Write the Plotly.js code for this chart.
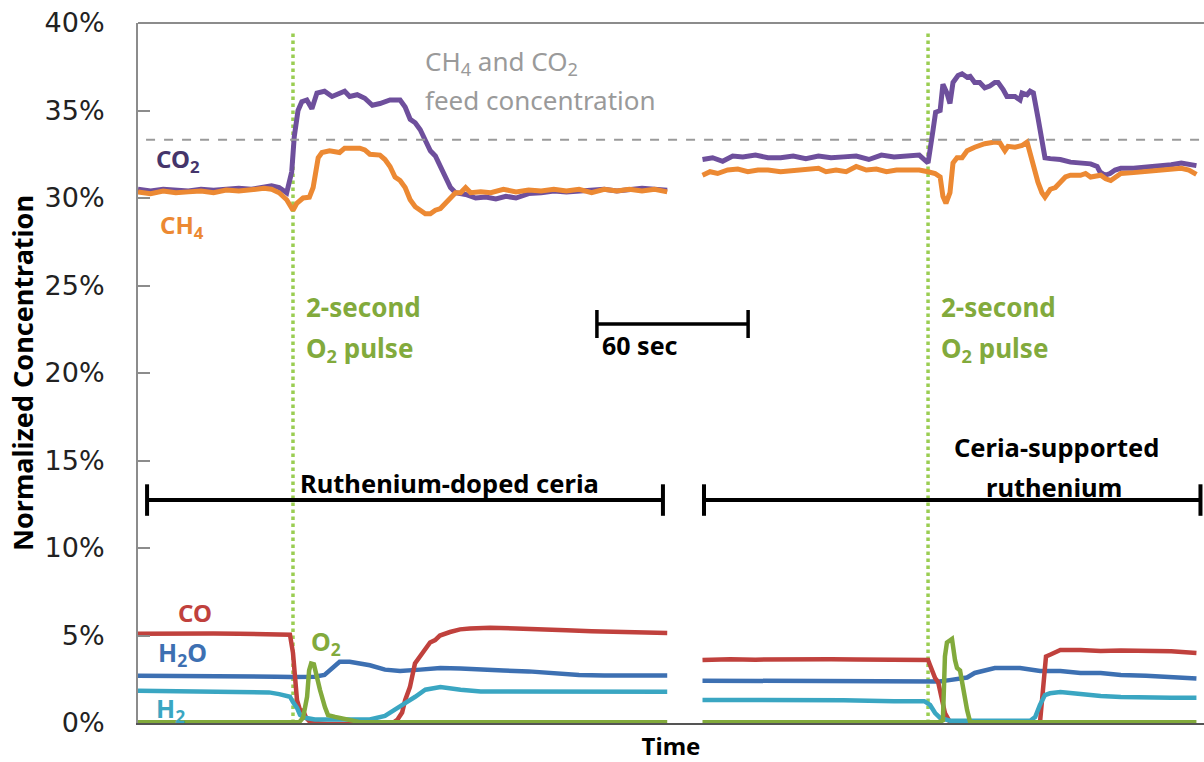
<!DOCTYPE html>
<html>
<head>
<meta charset="utf-8">
<script src="https://cdn.plot.ly/plotly-3.0.1.min.js"></script>
<style>html,body{margin:0;padding:0;background:#fff;}#chart{width:1204px;height:762px;}</style>
</head>
<body>
<div id="chart"></div>
<script>
// ---------- DATA (time in seconds, concentration in %) ----------
// Segment 1: Ruthenium-doped ceria
const tCO2a = [0,5,10,15,20,25,30,35,40,45,50,53,56,59,61,62,63.5,65,67,69,71,74,77,80,82,84,87,90,93,96,100,104,106,108,110,112,114,116,118,120,122,124,126,130,134,138,142,146,150,155,160,165,170,175,180,185,190,195,200,205,210];
const co2a  = [30.5,30.4,30.5,30.45,30.4,30.5,30.45,30.5,30.55,30.5,30.6,30.7,30.6,30.3,31.5,33.5,35.0,35.5,35.6,35.1,36.0,36.1,35.8,36.0,36.1,35.8,35.9,35.7,35.3,35.4,35.6,35.6,35.2,34.5,34.3,33.9,33.3,32.7,32.4,31.8,31.3,30.6,30.3,30.2,30.0,30.05,29.95,30.1,30.0,30.25,30.3,30.4,30.35,30.4,30.45,30.5,30.4,30.5,30.55,30.5,30.45];
const tCH4a = [0,5,10,15,20,25,30,35,40,45,50,53,56,59,61.5,63,65.5,68,69.5,71.5,73,76,80,82,88,90,92,96,98,100,102,104,106,108,110,112,114,116,118,120,122,124,126,128,130,132,136,140,145,150,155,160,165,170,175,180,185,190,195,200,205,210];
const ch4a  = [30.35,30.25,30.4,30.3,30.35,30.4,30.3,30.45,30.4,30.5,30.55,30.5,30.3,29.9,29.3,29.7,30.0,30.05,30.6,32.3,32.6,32.7,32.6,32.85,32.85,32.75,32.5,32.45,32.2,31.8,31.2,31.0,30.6,29.9,29.5,29.3,29.1,29.1,29.3,29.4,29.7,30.05,30.3,30.3,30.6,30.3,30.35,30.3,30.5,30.35,30.45,30.4,30.5,30.4,30.5,30.3,30.5,30.4,30.5,30.4,30.5,30.35];
const tCOa  = [0,10,20,30,40,50,58,60.3,61.5,62.3,63.1,64.3,65.5,66.7,68,70.2,75,85,95,101,103,104.8,106,107.9,109.9,111.9,113.9,115.9,117.9,119.8,123.8,127.8,131.7,139.7,150,160,170,180,190,200,210];
const coa   = [5.1,5.12,5.1,5.12,5.1,5.08,5.08,5.05,4.0,2.6,1.3,0.74,0.7,0.3,0.1,0.0,-0.05,-0.05,-0.05,0.0,0.2,0.6,1.3,2.05,3.4,3.8,4.3,4.6,4.74,5.0,5.2,5.35,5.4,5.45,5.4,5.38,5.3,5.25,5.2,5.2,5.15];
const tH2Oa = [0,20,40,55,61,70,74,76,78,80,84,88,92,98,104,112,120,128,136,145,155,165,175,185,195,210];
const h2oa  = [2.7,2.7,2.68,2.65,2.63,2.65,2.75,3.0,3.3,3.5,3.5,3.4,3.3,3.05,2.97,3.05,3.14,3.12,3.05,3.0,2.95,2.85,2.75,2.72,2.72,2.72];
const tH2a  = [0,15,30,45,52,56,60.3,61.5,63.1,64.3,66.3,70.2,80,92,98,102,106,110,114,120,124,128,136,150,170,190,210];
const h2a   = [1.85,1.83,1.82,1.8,1.75,1.65,1.5,1.2,0.86,0.46,0.3,0.2,0.2,0.2,0.4,0.74,1.14,1.5,1.9,2.05,1.95,1.9,1.8,1.8,1.78,1.8,1.78];
const tO2a  = [0,60,64,65.5,67.1,67.9,68.7,69.8,71.4,72.2,74.2,75.4,78.2,82.1,86.1,88.1,210];
const o2a   = [0.05,0.05,0.05,0.3,1.5,3.0,3.4,3.35,2.3,1.9,0.9,0.45,0.35,0.25,0.1,0.05,0.05];

// Segment 2: Ceria-supported ruthenium
const tCO2b = [224,228,232,236,240,245,250,255,260,265,270,275,280,285,290,295,300,305,310,313.5,314.5,315.5,316.5,318.3,319.4,321,322.2,323.4,325.4,327,329,330.2,332,334,336,338,340,341.3,343.3,344.8,348,350,350.8,352.8,354,355.3,357.1,358.7,359.9,362,366,370,374,378,380.6,381.7,383.7,385.7,387.7,390,395,400,405,410,414,417,420];
const co2b  = [32.2,32.3,32.1,32.4,32.35,32.45,32.3,32.3,32.4,32.25,32.4,32.3,32.35,32.4,32.2,32.45,32.35,32.4,32.45,32.0,32.8,33.9,34.9,35.0,36.5,36.0,35.4,36.6,37.0,37.1,36.9,36.95,36.6,36.6,36.3,36.4,36.6,36.6,36.2,35.8,35.8,35.6,36.0,35.9,36.1,36.0,34.6,33.3,32.3,32.25,32.2,32.05,32.0,31.95,31.8,31.5,31.3,31.4,31.6,31.7,31.7,31.75,31.8,31.9,32.0,31.9,31.85];
const tCH4b = [224,227,230,234,238,242,246,250,255,260,265,270,273,277,281,285,289,293,297,301,305,310,313.5,316.3,318.3,319.4,320.6,322.2,323.4,325,327,329,332,336,340,342,344,345.2,348,350.8,352.8,354.8,356,357.1,358.7,359.9,362,364,366,368,370,374,376,378,382,384,386,388,390,395,400,405,410,414,417,420];
const ch4b  = [31.3,31.5,31.4,31.6,31.65,31.5,31.6,31.6,31.5,31.55,31.6,31.7,31.5,31.6,31.5,31.8,31.6,31.65,31.5,31.6,31.6,31.6,31.5,31.4,31.2,30.1,29.7,30.3,32.0,32.3,32.3,32.7,32.9,33.1,33.2,33.15,32.7,32.95,32.9,33.0,33.2,32.0,31.4,30.9,30.3,30.05,30.5,30.6,30.9,31.2,31.3,31.3,31.4,31.2,31.3,31.1,31.0,31.2,31.4,31.45,31.5,31.55,31.6,31.7,31.6,31.35];
const tCOb  = [224,235,245,255,265,275,285,295,305,310,313.5,314.3,316.3,317.5,319,320.2,322.2,326,340,356,357.9,359.1,360.3,361.9,363.9,366,374,382,390,400,410,420];
const cob   = [3.6,3.65,3.62,3.65,3.62,3.65,3.63,3.62,3.58,3.6,3.6,3.3,2.57,2.34,1.3,0.57,0.05,-0.1,-0.1,-0.1,0.0,1.9,3.8,3.9,4.06,4.17,4.17,4.12,4.15,4.12,4.1,4.0];
const tH2Ob = [224,250,270,285,300,313,318,322,326,329,332,336,340,350,354,358,366,374,382,390,400,410,420];
const h2ob  = [2.42,2.42,2.42,2.38,2.37,2.37,2.37,2.45,2.57,2.6,2.86,3.03,3.14,3.14,3.05,2.97,2.97,2.86,2.86,2.74,2.7,2.6,2.55];
const tH2b  = [224,250,280,300,312,314.3,316.3,318.3,322.2,354,356,357.9,359.9,361.9,366,374,382,390,400,410,420];
const h2b   = [1.32,1.32,1.3,1.25,1.25,1.03,0.57,0.29,0.13,0.13,0.34,1.03,1.6,1.7,1.77,1.66,1.54,1.49,1.45,1.45,1.45];
const tO2b  = [224,260,300,318,319.4,320.2,321,323,324.2,325,326.2,327.4,329,330.2,420];
const o2b   = [0.05,0.05,0.05,0.05,0.15,3.8,4.6,4.8,3.6,3.14,3.0,1.9,0.74,0.05,0.05];

const pulseTimes = [61.5, 313.5];
const feedConc = 33.33;
const yTickVals = [0,5,10,15,20,25,30,35,40];
const yTickText = ['0%','5%','10%','15%','20%','25%','30%','35%','40%'];

// ---------- STYLE ----------
const C = {co2:'#6e4f9c', ch4:'#ec8933', co:'#c0413d', h2o:'#3d70b2', h2:'#3aa6c2', o2:'#82aa3c', pulse:'#9acd52', grey:'#9a9a9a'};
const join = (a,b) => a.concat([null], b);

function tr(ta, va, tb, vb, color, w){
  return {x: join(ta, tb), y: join(va, vb), mode:'lines', connectgaps:false,
          line:{color:color, width:w}, hoverinfo:'skip', showlegend:false};
}
const data = [
  tr(tH2Oa,h2oa,tH2Ob,h2ob,C.h2o,4.5),
  tr(tCOa,coa,tCOb,cob,C.co,4.5),
  tr(tH2a,h2a,tH2b,h2b,C.h2,4.5),
  tr(tO2a,o2a,tO2b,o2b,C.o2,4.5),
  tr(tCO2a,co2a,tCO2b,co2b,C.co2,5),
  tr(tCH4a,ch4a,tCH4b,ch4b,C.ch4,5)
];

const XMAX = 423;
const shapes = [
  {type:'line', xref:'paper', yref:'paper', x0:0, x1:1, y0:1, y1:1, line:{color:'#8c8c8c', width:2}},
  {type:'line', xref:'x', yref:'y', x0:3.2, x1:XMAX, y0:feedConc, y1:feedConc, line:{color:C.grey, width:2, dash:'dash'}},
];
pulseTimes.forEach(t => shapes.push({type:'line', xref:'x', yref:'y', x0:t, x1:t, y0:0, y1:39.6,
  line:{color:C.pulse, width:3.5, dash:'dot'}, layer:'below'}));
function bar(x0, x1, y, h, w){
  shapes.push({type:'line', xref:'x', yref:'y', x0:x0, x1:x1, y0:y, y1:y, line:{color:'#000', width:w}});
  shapes.push({type:'line', xref:'x', yref:'y', x0:x0, x1:x0, y0:y-h, y1:y+h, line:{color:'#000', width:w}});
  shapes.push({type:'line', xref:'x', yref:'y', x0:x1, x1:x1, y0:y-h, y1:y+h, line:{color:'#000', width:w}});
}
bar(182.1, 242.1, 22.8, 0.8, 3.5);   // 60 sec scale bar
bar(3.6, 208.3, 12.74, 0.9, 4);      // Ruthenium-doped ceria
bar(224.6, 421.6, 12.74, 0.9, 4);    // Ceria-supported ruthenium

const F = "Noto Sans";
function ann(text, x, y, color, size, bold, xanchor){
  return {text:text, x:x, y:y, xref:'x', yref:'y', showarrow:false,
    xanchor: xanchor||'left', yanchor:'middle', align: xanchor==='center' ? 'center':'left',
    font:{family:F, size:size, color:color, weight: bold ? 700 : 400}};
}
const annotations = [
  ann('CH<sub>4</sub> and CO<sub>2</sub>', 113, 37.8, '#9a9a9a', 26, false),
  ann('feed concentration', 113, 35.6, '#9a9a9a', 26, false),
  ann('CO<sub>2</sub>', 6.5, 32.2, '#45356b', 24, true),
  ann('CH<sub>4</sub>', 8, 28.4, C.ch4, 24, true),
  ann('2-second', 66, 23.8, C.o2, 26, true),
  ann('O<sub>2</sub> pulse', 66, 21.4, C.o2, 26, true),
  ann('2-second', 318, 23.8, C.o2, 26, true),
  ann('O<sub>2</sub> pulse', 318, 21.4, C.o2, 26, true),
  ann('60 sec', 183.5, 21.6, '#000', 25, true),
  ann('Ruthenium-doped ceria', 63.5, 13.7, '#000', 25.5, true),
  ann('Ceria-supported', 364.5, 15.8, '#000', 25.5, true, 'center'),
  ann('ruthenium', 363.5, 13.5, '#000', 25.5, true, 'center'),
  ann('CO', 15, 6.3, C.co, 24, true),
  ann('H<sub>2</sub>O', 7, 4.0, C.h2o, 25, true),
  ann('H<sub>2</sub>', 6.5, 0.8, C.h2, 25, true),
  ann('O<sub>2</sub>', 68, 4.6, C.o2, 25, true),
  {text:'Normalized Concentration', xref:'paper', yref:'paper', x:0, y:0.5, xshift:-116, textangle:-90,
   showarrow:false, xanchor:'center', yanchor:'middle', font:{family:F, size:27, color:'#000', weight:700}}
];

const layout = {
  width:1204, height:762,
  margin:{l:138, r:0, t:23, b:39},
  paper_bgcolor:'#fff', plot_bgcolor:'#fff',
  xaxis:{range:[0,XMAX], showgrid:false, zeroline:false, showticklabels:false, ticks:'',
         showline:true, linecolor:'#555', linewidth:1.5,
         title:{text:'Time', font:{family:F, size:24, color:'#000', weight:700}, standoff:15}},
  yaxis:{range:[0,40], showgrid:false, zeroline:false, tickvals:yTickVals, ticktext:yTickText,
         ticks:'inside', ticklen:12, tickwidth:1.5, tickcolor:'#8c8c8c',
         showline:true, linecolor:'#8c8c8c', linewidth:2, ticklabelstandoff:26,
         tickfont:{family:'DejaVu Sans', size:27, color:'#222'}},
  shapes:shapes, annotations:annotations, showlegend:false
};
Plotly.newPlot('chart', data, layout, {displayModeBar:false});
</script>
</body>
</html>
